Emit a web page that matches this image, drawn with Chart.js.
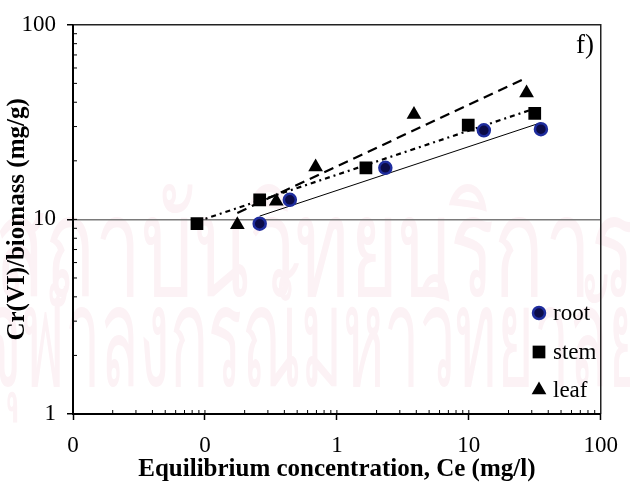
<!DOCTYPE html>
<html>
<head>
<meta charset="utf-8">
<script src="https://cdn.jsdelivr.net/npm/chart.js@4.4.1/dist/chart.umd.min.js"></script>
<style>
  html, body { margin: 0; padding: 0; background: #fff; }
  #wrap { width: 630px; height: 490px; }
</style>
</head>
<body>
<div id="wrap"><canvas id="isotherm" width="630" height="490"></canvas></div>
<script>
// Cr(VI) uptake vs equilibrium concentration, per plant part
const rootCe = [0.26, 0.44, 2.33, 13.0, 35.2];
const rootQ  = [9.5, 12.6, 18.4, 28.7, 29.1];
const stemCe = [0.087, 0.26, 1.66, 9.9, 31.6];
const stemQ  = [9.5, 12.6, 18.4, 30.5, 35.1];
const leafCe = [0.176, 0.347, 0.69, 3.84, 27.4];
const leafQ  = [9.4, 12.4, 18.6, 34.6, 44.6];

// Freundlich fit lines (end points)
const rootFitCe = [0.26, 35.2];
const rootFitQ  = [10.4, 31.4];
const stemFitCe = [0.087, 31.6];
const stemFitQ  = [9.75, 37.1];
const leafFitCe = [0.176, 27.4];
const leafFitQ  = [10.8, 53.5];

const xTicks = [0.01, 0.1, 1, 10, 100];
const yTicks = [1, 10, 100];

const SERIF = "'Liberation Serif', 'Times New Roman', serif";

function pts(xs, ys) {
    return xs.map((x, i) => ({ x: x, y: ys[i] }));
}

// faint background lettering
const watermark = {
    id: 'watermark',
    beforeDraw(chart) {
        const ctx = chart.ctx;
        ctx.save();
        ctx.fillStyle = '#fff';
        ctx.fillRect(0, 0, chart.width, chart.height);
        ctx.fillStyle = '#fcf2f5';
        ctx.textAlign = 'center';
        ctx.textBaseline = 'alphabetic';
        const lines = [['สถาบันวิทยบริการ', 296, 640], ['จุฬาลงกรณ์มหาวิทยาลัย', 386, 660]];
        lines.forEach(([txt, y, width]) => {
            ctx.font = "100px 'Noto Sans', sans-serif";
            const w = ctx.measureText(txt).width;
            ctx.save();
            ctx.translate(315, y);
            ctx.scale(width / w, 1.4);
            ctx.fillText(txt, 0, 0);
            ctx.restore();
        });
        ctx.restore();
    }
};

// plot frame plus inward minor ticks on both log axes
const frame = {
    id: 'frame',
    beforeDatasetsDraw(chart) {
        const { ctx, chartArea: a, scales } = chart;
        ctx.save();
        ctx.strokeStyle = '#000';
        ctx.lineWidth = 1;
        ctx.beginPath();
        for (let d = 0.01; d < 100; d *= 10) {
            for (let k = 1; k <= 9; k++) {
                const px = scales.x.getPixelForValue(k * d);
                ctx.moveTo(px, a.bottom);
                ctx.lineTo(px, a.bottom - 4);
            }
        }
        for (let d = 1; d < 100; d *= 10) {
            for (let k = 1; k <= 9; k++) {
                const py = scales.y.getPixelForValue(k * d);
                ctx.moveTo(a.left, py);
                ctx.lineTo(a.left + 4, py);
            }
        }
        ctx.stroke();

        ctx.strokeStyle = '#222';
        ctx.lineWidth = 1.5;
        ctx.beginPath();
        ctx.moveTo(a.left, a.top);
        ctx.lineTo(a.right, a.top);
        ctx.lineTo(a.right, a.bottom);
        ctx.stroke();

        ctx.strokeStyle = '#000';
        ctx.lineWidth = 2;
        ctx.beginPath();
        ctx.moveTo(a.left, a.top);
        ctx.lineTo(a.left, a.bottom);
        ctx.lineTo(a.right, a.bottom);
        ctx.stroke();
        ctx.restore();
    }
};

// legend in the lower right corner, plus the panel letter
const cornerLegend = {
    id: 'cornerLegend',
    afterDraw(chart) {
        const ctx = chart.ctx;
        const rows = [313, 352, 390];
        ctx.save();
        chart.data.datasets.slice(0, 3).forEach((ds, i) => {
            const y = rows[i];
            ctx.fillStyle = ds.backgroundColor;
            ctx.strokeStyle = ds.borderColor;
            ctx.lineWidth = ds.borderWidth;
            Chart.helpers.drawPoint(ctx, {
                pointStyle: ds.pointStyle,
                radius: ds.pointRadius,
                borderWidth: ds.borderWidth,
                rotation: 0
            }, 539, y);
            ctx.fillStyle = '#000';
            ctx.font = '23px ' + SERIF;
            ctx.textAlign = 'left';
            ctx.textBaseline = 'middle';
            ctx.fillText(ds.label, 553, y + 1);
        });
        ctx.font = '27px ' + SERIF;
        ctx.fillStyle = '#000';
        ctx.textAlign = 'left';
        ctx.textBaseline = 'alphabetic';
        ctx.fillText('f)', 576, 53);
        ctx.restore();
    }
};

const ctx = document.getElementById('isotherm').getContext('2d');
new Chart(ctx, {
    type: 'scatter',
    data: {
        datasets: [
            {
                label: 'root', data: pts(rootCe, rootQ),
                pointStyle: 'circle', pointRadius: 6,
                backgroundColor: '#0c0c48', borderColor: '#1f2d9e', borderWidth: 2.5
            },
            {
                label: 'stem', data: pts(stemCe, stemQ),
                pointStyle: 'rect', pointRadius: 9,
                backgroundColor: '#000', borderColor: '#000', borderWidth: 0
            },
            {
                label: 'leaf', data: pts(leafCe, leafQ),
                pointStyle: 'triangle', pointRadius: 8.5,
                backgroundColor: '#000', borderColor: '#000', borderWidth: 0
            },
            {
                label: 'root fit', data: pts(rootFitCe, rootFitQ),
                showLine: true, pointRadius: 0, borderColor: '#000', borderWidth: 1
            },
            {
                label: 'stem fit', data: pts(stemFitCe, stemFitQ),
                showLine: true, pointRadius: 0, borderColor: '#000', borderWidth: 2.2,
                borderDash: [5, 4, 2, 4]
            },
            {
                label: 'leaf fit', data: pts(leafFitCe, leafFitQ),
                showLine: true, pointRadius: 0, borderColor: '#000', borderWidth: 2.2,
                borderDash: [10, 6]
            }
        ]
    },
    options: {
        responsive: false,
        animation: false,
        events: [],
        layout: { padding: { top: 19, right: 22, left: 0, bottom: 0 } },
        plugins: {
            legend: { display: false },
            tooltip: { enabled: false }
        },
        scales: {
            x: {
                type: 'logarithmic',
                min: 0.01,
                max: 100,
                afterBuildTicks: s => { s.ticks = xTicks.map(v => ({ value: v })); },
                afterFit: s => { s.height = 76; },
                border: { display: false },
                grid: { drawOnChartArea: false, tickLength: 6, tickColor: '#000', tickWidth: 1.5 },
                ticks: {
                    color: '#000',
                    font: { family: SERIF, size: 23 },
                    padding: 12,
                    autoSkip: false,
                    maxRotation: 0,
                    callback: v => Math.round(v).toString()
                },
                title: {
                    display: true,
                    text: 'Equilibrium concentration, Ce (mg/l)',
                    color: '#000',
                    font: { family: SERIF, size: 25, weight: 'bold' },
                    padding: { top: 0, bottom: 5 }
                }
            },
            y: {
                type: 'logarithmic',
                min: 1,
                max: 100,
                afterBuildTicks: s => { s.ticks = yTicks.map(v => ({ value: v })); },
                afterFit: s => { s.width = 73; },
                border: { display: false },
                grid: {
                    color: c => (c.tick && c.tick.value === 10) ? '#7a7a7a' : 'rgba(0,0,0,0)',
                    lineWidth: 1.5,
                    tickLength: 6,
                    tickColor: '#000',
                    tickWidth: 1.5
                },
                ticks: {
                    color: '#000',
                    font: { family: SERIF, size: 23 },
                    padding: 11,
                    callback: v => Math.round(v).toString()
                },
                title: {
                    display: true,
                    text: 'Cr(VI)/biomass (mg/g)',
                    color: '#000',
                    font: { family: SERIF, size: 25, weight: 'bold' },
                    padding: { top: 3, bottom: 0 }
                }
            }
        }
    },
    plugins: [watermark, frame, cornerLegend]
});
</script>
</body>
</html>
